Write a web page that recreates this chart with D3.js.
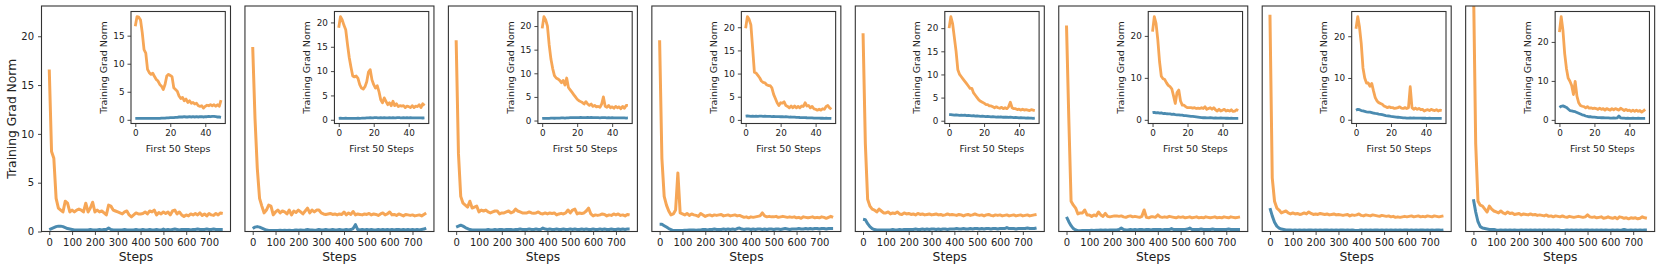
<!DOCTYPE html>
<html>
<head>
<meta charset="utf-8">
<script src="https://cdn.jsdelivr.net/npm/d3@7"></script>
<style>
  body { margin: 0; background: #fff; }
  svg { display: block; font-family: "DejaVu Sans", sans-serif; }
</style>
</head>
<body>
<div id="chart"></div>
<script>
// main plots: one value every 10 steps, insets: one value per step (first 50)
const mainStepSize = 10;
const mainXTicks = [0, 100, 200, 300, 400, 500, 600, 700];
const mainYTicks = [0, 5, 10, 15, 20];
const insetXTicks = [0, 20, 40];
const insetYTicks = [
  [0, 5, 10, 15], [0, 5, 10, 15, 20], [0, 5, 10, 15, 20], [0, 5, 10, 15, 20],
  [0, 5, 10, 15, 20], [0, 10, 20], [0, 10, 20], [0, 10, 20]
];

const mainOrange = [
  [16.6,8.2,7.5,3.4,2.4,2.2,2.0,3.1,2.9,2.0, 2.2,2.0,2.2,2.3,2.2,2.0,2.9,2.0,2.4,3.0, 2.0,2.2,2.0,2.1,1.9,1.7,2.7,2.6,2.2,2.1,
   2.0,1.9,1.8,2.0,2.1,1.7,1.5,1.7,1.9,1.8, 1.8,1.85,2.0,1.8,2.1,2.0,2.2,1.7,1.95,1.8, 2.0,1.85,2.0,1.7,2.1,2.2,1.8,2.0,1.7,1.55,
   1.7,1.6,1.8,1.7,1.85,1.7,1.9,1.65,1.8,1.6, 1.85,1.7,1.65,1.85,1.7,1.9,1.85],
  [18.9,11.6,6.5,3.4,2.6,1.9,2.2,2.7,2.6,1.7, 2.0,2.2,1.9,2.1,2.0,1.8,2.2,1.7,2.1,1.95, 2.2,2.0,1.8,2.1,2.4,1.9,2.2,2.0,2.2,2.2,
   1.9,1.8,1.75,1.8,1.85,1.75,1.8,1.7,1.8,1.75, 2.0,1.7,1.9,1.75,2.05,1.7,1.8,1.75,1.7,1.8, 1.75,1.85,1.7,1.8,1.75,1.65,1.8,1.9,1.7,1.8,
   2.0,1.7,1.75,1.65,1.8,1.7,1.6,1.75,1.7,1.65, 1.7,1.6,1.65,1.7,1.6,1.75,1.9],
  [19.6,8.0,3.6,2.9,2.7,2.5,3.1,2.4,2.5,2.6, 2.0,2.2,2.1,2.2,2.0,1.9,2.0,2.1,2.1,1.8, 1.9,1.9,2.0,2.1,1.9,2.0,2.3,2.1,2.0,1.9,
   1.9,1.9,2.0,1.9,1.86,1.9,2.0,1.85,1.8,1.9, 1.8,1.9,1.85,1.9,1.7,1.8,1.86,1.8,1.9,2.2, 1.9,2.2,2.3,1.8,1.9,1.85,1.9,2.1,2.4,1.8,
   1.6,1.7,1.65,1.7,1.8,1.75,1.6,1.7,1.65,1.8, 1.7,1.8,1.65,1.7,1.6,1.75,1.7],
  [19.6,7.5,3.6,2.7,2.1,1.7,1.8,2.2,6.0,1.9, 1.8,1.7,1.85,1.65,1.8,1.7,1.65,1.55,1.85,1.7, 1.55,1.65,1.7,1.6,1.7,1.65,1.7,1.75,1.6,1.65,
   1.7,1.6,1.65,1.7,1.6,1.65,1.55,1.45,1.5,1.4, 1.5,1.45,1.5,1.55,1.6,1.9,1.6,1.5,1.55,1.5, 1.5,1.55,1.45,1.5,1.55,1.5,1.45,1.5,1.45,1.5,
   1.4,1.45,1.35,1.5,1.45,1.4,1.45,1.5,1.4,1.45, 1.4,1.5,1.45,1.35,1.45,1.55,1.45],
  [20.3,9.0,3.3,2.6,2.3,2.2,2.0,2.3,2.1,1.9, 1.9,2.0,1.8,1.9,1.85,2.0,1.8,1.75,1.9,1.8, 1.85,1.75,1.8,1.7,1.85,1.75,1.8,1.7,1.75,1.8,
   1.7,1.75,1.8,1.7,1.75,1.65,1.7,1.8,1.7,1.75, 1.7,1.65,1.75,1.7,1.6,1.7,1.75,1.65,1.7,1.8, 1.7,1.65,1.7,1.6,1.7,1.75,1.65,1.6,1.7,1.65,
   1.7,1.6,1.65,1.7,1.6,1.65,1.7,1.6,1.65,1.7, 1.6,1.65,1.7,1.6,1.65,1.7,1.75],
  [21.1,11.6,3.1,2.7,2.4,1.8,1.9,1.9,2.2,1.7, 1.7,1.55,1.7,1.6,2.0,1.7,1.55,1.85,1.55,1.5, 1.55,1.6,1.6,1.55,1.6,1.5,1.45,1.55,1.6,1.5,
   1.55,1.5,1.45,1.55,2.2,1.45,1.4,1.5,1.5,1.45, 1.7,1.5,1.45,1.5,1.45,1.55,1.5,1.45,1.4,1.5, 1.45,1.5,1.4,1.45,1.5,1.4,1.45,1.5,1.4,1.45,
   1.4,1.5,1.45,1.4,1.45,1.5,1.4,1.45,1.4,1.5, 1.45,1.4,1.5,1.45,1.4,1.45,1.5],
  [22.2,5.5,3.1,2.4,2.2,1.9,2.0,2.1,1.9,1.8, 1.9,1.8,1.85,1.75,1.8,1.9,1.8,2.0,1.85,1.75, 1.8,1.75,1.85,1.8,1.75,1.8,1.7,1.75,1.8,1.7,
   1.75,1.7,1.65,1.7,1.75,1.6,1.7,1.65,1.7,1.8, 1.65,1.6,1.7,1.65,1.6,1.7,1.65,1.6,1.55,1.65, 1.6,1.55,1.6,1.5,1.55,1.45,1.5,1.45,1.5,1.55,
   1.5,1.55,1.6,1.5,1.55,1.6,1.5,1.55,1.5,1.6, 1.55,1.5,1.6,1.55,1.5,1.55,1.6],
  [26.0,9.0,3.1,2.7,2.6,2.3,2.0,2.6,2.3,2.1, 2.0,1.9,2.1,1.9,1.8,2.0,1.85,1.9,1.75,1.8, 1.85,1.7,1.8,1.75,1.7,1.8,1.7,1.75,1.65,1.7,
   1.65,1.6,1.7,1.55,1.6,1.5,1.6,1.55,1.5,1.6, 1.5,1.45,1.55,1.5,1.45,1.5,1.55,1.5,1.45,1.5, 1.7,1.5,1.45,1.5,1.4,1.45,1.5,1.35,1.4,1.5,
   1.4,1.35,1.45,1.3,1.5,1.45,1.35,1.4,1.3,1.4, 1.35,1.4,1.3,1.35,1.5,1.4,1.35]
];

const mainBlue = [
  [0.2,0.3,0.4,0.5,0.55,0.55,0.5,0.4,0.3,0.25, 0.2,0.15,0.15,0.15,0.15,0.15,0.15,0.15,0.2,0.15, 0.15,0.15,0.2,0.15,0.2,0.2,0.35,0.2,0.15,0.15,
   0.15,0.15,0.15,0.2,0.15,0.15,0.15,0.15,0.2,0.15, 0.15,0.2,0.15,0.15,0.2,0.15,0.15,0.2,0.15,0.15, 0.25,0.15,0.2,0.15,0.2,0.25,0.2,0.15,0.2,0.2,
   0.2,0.2,0.15,0.2,0.2,0.25,0.2,0.2,0.2,0.25, 0.2,0.2,0.25,0.2,0.2,0.2,0.2],
  [0.3,0.45,0.5,0.45,0.35,0.25,0.15,0.1,0.1,0.1, 0.1,0.1,0.12,0.1,0.12,0.1,0.12,0.1,0.12,0.15, 0.12,0.15,0.12,0.15,0.2,0.15,0.15,0.12,0.15,0.2,
   0.15,0.15,0.2,0.15,0.15,0.2,0.15,0.15,0.2,0.15, 0.15,0.2,0.15,0.2,0.3,0.7,0.2,0.15,0.2,0.15, 0.2,0.15,0.2,0.15,0.15,0.2,0.15,0.2,0.15,0.2,
   0.15,0.2,0.15,0.2,0.2,0.15,0.2,0.15,0.2,0.15, 0.2,0.15,0.2,0.15,0.2,0.25,0.35],
  [0.45,0.55,0.65,0.55,0.4,0.3,0.2,0.15,0.15,0.15, 0.15,0.15,0.15,0.15,0.2,0.15,0.15,0.2,0.15,0.2, 0.2,0.15,0.2,0.2,0.2,0.15,0.2,0.2,0.25,0.2,
   0.2,0.2,0.25,0.2,0.2,0.25,0.2,0.2,0.35,0.25, 0.2,0.25,0.2,0.2,0.25,0.2,0.2,0.25,0.2,0.2, 0.25,0.2,0.25,0.2,0.2,0.25,0.2,0.25,0.2,0.2,
   0.25,0.2,0.2,0.25,0.2,0.25,0.2,0.2,0.25,0.2, 0.2,0.25,0.2,0.25,0.2,0.25,0.25],
  [0.75,0.75,0.6,0.45,0.3,0.2,0.1,0.1,0.1,0.1, 0.1,0.12,0.12,0.15,0.15,0.15,0.12,0.15,0.15,0.2, 0.2,0.15,0.2,0.2,0.25,0.2,0.2,0.2,0.25,0.2,
   0.25,0.2,0.25,0.2,0.3,0.35,0.25,0.2,0.25,0.25, 0.2,0.25,0.2,0.25,0.25,0.2,0.25,0.2,0.25,0.25, 0.2,0.25,0.25,0.2,0.25,0.3,0.25,0.2,0.25,0.25,
   0.25,0.3,0.25,0.25,0.3,0.25,0.3,0.25,0.3,0.3, 0.25,0.3,0.3,0.25,0.3,0.3,0.3],
  [1.25,1.2,0.8,0.5,0.3,0.2,0.15,0.15,0.15,0.15, 0.15,0.15,0.15,0.2,0.15,0.15,0.2,0.15,0.2,0.2, 0.2,0.2,0.2,0.25,0.2,0.2,0.25,0.2,0.25,0.2,
   0.25,0.25,0.2,0.25,0.2,0.25,0.25,0.2,0.25,0.25, 0.25,0.3,0.25,0.25,0.3,0.25,0.25,0.3,0.25,0.3, 0.3,0.25,0.3,0.25,0.3,0.3,0.25,0.3,0.3,0.25,
   0.3,0.3,0.3,0.4,0.3,0.3,0.3,0.25,0.3,0.3, 0.3,0.3,0.35,0.3,0.3,0.3,0.35],
  [1.5,1.0,0.6,0.3,0.15,0.08,0.07,0.1,0.1,0.1, 0.1,0.12,0.1,0.12,0.12,0.15,0.12,0.15,0.12,0.15, 0.15,0.15,0.15,0.2,0.35,0.2,0.15,0.15,0.2,0.15,
   0.2,0.15,0.2,0.2,0.15,0.2,0.2,0.15,0.2,0.2, 0.2,0.2,0.15,0.2,0.2,0.2,0.3,0.2,0.2,0.2, 0.2,0.2,0.2,0.25,0.35,0.2,0.2,0.2,0.2,0.25,
   0.2,0.2,0.2,0.2,0.25,0.2,0.2,0.2,0.2,0.2, 0.2,0.25,0.2,0.2,0.2,0.2,0.2],
  [2.4,1.6,0.95,0.55,0.35,0.25,0.2,0.15,0.15,0.15, 0.12,0.15,0.12,0.15,0.12,0.15,0.12,0.15,0.15,0.12, 0.15,0.12,0.15,0.12,0.15,0.15,0.12,0.15,0.12,0.15,
   0.12,0.15,0.15,0.12,0.15,0.12,0.15,0.12,0.1,0.12, 0.15,0.12,0.15,0.12,0.15,0.12,0.15,0.15,0.12,0.15, 0.12,0.15,0.12,0.15,0.12,0.15,0.12,0.15,0.12,0.15,
   0.15,0.12,0.15,0.12,0.15,0.12,0.15,0.15,0.12,0.15, 0.12,0.15,0.12,0.15,0.15,0.12,0.15],
  [3.3,2.0,1.0,0.5,0.35,0.3,0.25,0.2,0.2,0.2, 0.15,0.12,0.15,0.12,0.15,0.12,0.15,0.12,0.15,0.12, 0.12,0.15,0.12,0.15,0.12,0.15,0.12,0.15,0.12,0.15,
   0.12,0.15,0.12,0.15,0.12,0.15,0.12,0.15,0.12,0.1, 0.12,0.15,0.12,0.15,0.12,0.15,0.12,0.15,0.12,0.15, 0.15,0.12,0.15,0.12,0.15,0.12,0.15,0.12,0.15,0.12,
   0.12,0.15,0.12,0.15,0.12,0.15,0.2,0.15,0.12,0.15, 0.12,0.15,0.12,0.15,0.12,0.15,0.15]
];

const insetOrange = [
  [16.7,18.4,18.3,17.8,15.5,12.5,11.9,9.0,8.4,8.1, 8.3,7.7,7.2,6.9,6.3,6.0,5.4,6.3,7.8,8.1, 7.9,7.7,5.7,5.4,5.1,4.25,3.8,4.0,3.4,3.7,
   3.1,3.4,2.95,3.1,2.8,2.95,2.5,2.4,2.5,2.1, 2.4,2.6,2.5,2.7,2.5,2.7,2.4,2.7,2.4,3.5],
  [18.9,21.2,20.5,19.4,18.5,15.5,12.8,10.8,9.0,8.8, 9.0,8.5,7.2,6.5,6.3,6.8,7.8,9.8,10.3,8.2, 7.2,6.5,7.0,5.8,4.1,3.5,4.5,3.8,3.1,3.5,
   2.9,3.8,2.9,3.3,2.7,2.9,2.8,2.9,2.5,2.8, 2.7,2.5,2.9,2.5,2.8,2.7,3.1,2.5,3.3,2.9],
  [19.5,22.0,21.3,20.0,16.0,13.0,11.0,9.5,9.0,8.8, 8.5,8.0,8.5,7.5,9.0,7.0,6.5,6.0,5.5,5.0, 4.5,4.2,4.0,3.8,3.5,4.0,3.5,3.2,3.5,3.0,
   3.2,2.9,3.0,2.8,3.5,5.0,3.0,2.8,3.2,2.7, 2.9,2.6,3.0,2.7,2.9,2.5,3.0,2.6,3.2,3.2],
  [19.8,22.3,21.7,20.5,15.5,10.3,10.1,9.6,9.1,8.4, 8.1,8.0,7.6,7.4,7.4,6.9,5.5,4.6,3.7,3.1, 3.7,3.6,3.9,3.1,2.9,2.6,3.0,2.6,3.0,2.6,
   2.9,2.6,3.0,2.9,3.7,3.0,3.1,2.6,2.9,2.4, 2.3,2.1,2.3,2.1,2.4,2.3,2.9,3.1,2.6,2.3],
  [20.0,22.5,21.0,18.0,15.0,11.0,10.0,9.5,9.0,8.5, 8.0,7.5,7.0,7.0,6.0,5.5,5.0,4.5,4.2,4.0, 3.8,3.5,3.5,3.2,3.2,3.0,2.8,3.0,2.8,2.7,
   2.9,2.6,2.8,2.6,3.0,4.0,2.8,2.6,2.6,2.4, 2.5,2.3,2.5,2.3,2.4,2.3,2.2,2.4,2.3,2.2],
  [21.0,24.6,23.0,19.1,13.9,10.4,9.8,9.6,8.8,8.2, 7.9,7.4,5.7,3.9,6.5,7.1,4.5,3.5,3.5,3.1, 2.9,2.9,2.9,2.8,2.9,2.7,2.8,2.7,2.9,2.7,
   3.1,2.5,2.7,2.9,2.5,2.9,2.4,2.1,2.5,2.1, 2.3,2.5,2.1,2.3,2.1,2.4,2.0,2.1,2.4,2.2],
  [21.8,24.7,22.2,18.3,12.4,10.0,8.8,8.8,8.0,8.7, 6.9,5.3,4.5,4.1,3.9,3.7,3.3,3.1,2.9,3.1, 2.9,2.9,2.7,2.8,2.9,3.1,2.8,2.7,2.9,2.7,
   2.9,7.9,2.9,2.5,2.8,2.5,2.7,2.4,2.5,2.1, 2.3,2.4,2.2,2.5,2.3,2.2,2.4,2.1,2.3,2.2],
  [22.5,26.5,23.0,17.0,13.2,10.7,9.9,8.8,6.5,9.9, 6.1,4.4,3.7,3.5,3.4,3.1,3.4,3.0,3.1,2.9, 3.0,2.9,2.7,3.0,2.7,2.9,2.5,2.9,2.7,2.5,
   2.9,2.6,2.9,2.7,2.5,3.0,2.7,2.4,2.7,2.4, 2.5,2.2,2.5,2.2,2.5,2.2,2.4,2.0,2.3,2.7]
];

const insetBlue = [
  [0.25,0.25,0.25,0.25,0.25,0.25,0.25,0.25,0.25,0.25, 0.25,0.25,0.25,0.25,0.25,0.3,0.3,0.3,0.35,0.35, 0.4,0.4,0.4,0.45,0.45,0.5,0.5,0.5,0.55,0.5,
   0.5,0.55,0.5,0.55,0.5,0.55,0.5,0.55,0.55,0.5, 0.55,0.55,0.6,0.55,0.6,0.6,0.55,0.5,0.5,0.45],
  [0.3,0.32,0.3,0.3,0.32,0.3,0.3,0.28,0.3,0.3, 0.3,0.32,0.3,0.32,0.35,0.35,0.38,0.4,0.42,0.4, 0.42,0.45,0.42,0.4,0.42,0.4,0.42,0.4,0.4,0.42,
   0.4,0.42,0.4,0.42,0.45,0.42,0.4,0.42,0.4,0.42, 0.4,0.42,0.4,0.38,0.4,0.38,0.4,0.38,0.36,0.38],
  [0.45,0.47,0.45,0.45,0.47,0.5,0.5,0.48,0.5,0.5, 0.52,0.55,0.55,0.52,0.55,0.58,0.6,0.62,0.6,0.62, 0.6,0.62,0.65,0.62,0.6,0.62,0.65,0.62,0.65,0.62,
   0.6,0.62,0.6,0.58,0.6,0.62,0.6,0.58,0.6,0.58, 0.6,0.58,0.56,0.58,0.56,0.55,0.57,0.55,0.53,0.55],
  [0.8,0.85,0.8,0.75,0.8,0.75,0.8,0.78,0.82,0.8, 0.78,0.8,0.75,0.78,0.75,0.72,0.75,0.7,0.72,0.7, 0.68,0.7,0.65,0.68,0.65,0.6,0.62,0.58,0.6,0.55,
   0.55,0.52,0.5,0.48,0.5,0.46,0.45,0.42,0.44,0.4, 0.38,0.4,0.36,0.35,0.36,0.34,0.35,0.33,0.34,0.32],
  [1.3,1.3,1.25,1.2,1.25,1.2,1.15,1.2,1.15,1.2, 1.1,1.15,1.1,1.05,1.1,1.0,1.05,1.0,0.95,1.0, 0.95,0.9,0.95,0.9,0.85,0.9,0.85,0.8,0.85,0.8,
   0.8,0.75,0.8,0.75,0.7,0.75,0.7,0.65,0.7,0.65, 0.6,0.65,0.6,0.6,0.55,0.6,0.55,0.55,0.5,0.55],
  [1.7,1.8,1.65,1.7,1.6,1.65,1.5,1.55,1.45,1.4, 1.4,1.3,1.35,1.25,1.2,1.2,1.1,1.1,1.0,1.0, 0.95,0.9,0.85,0.8,0.75,0.7,0.65,0.6,0.55,0.5,
   0.5,0.45,0.45,0.5,0.45,0.4,0.45,0.4,0.4,0.45, 0.4,0.4,0.38,0.4,0.36,0.38,0.35,0.36,0.34,0.35],
  [2.3,2.5,2.4,2.2,2.1,2.0,1.9,1.85,1.8,1.7, 1.6,1.5,1.45,1.35,1.3,1.2,1.1,1.0,0.95,0.9, 0.8,0.75,0.7,0.65,0.6,0.55,0.5,0.45,0.45,0.4,
   0.4,0.45,0.4,0.42,0.4,0.38,0.4,0.38,0.36,0.38, 0.36,0.35,0.36,0.34,0.35,0.33,0.34,0.32,0.33,0.32],
  [3.2,3.5,3.6,3.4,3.2,2.8,2.4,2.3,2.2,2.1, 1.9,1.7,1.5,1.3,1.2,1.0,0.9,0.8,0.8,0.7, 0.7,0.65,0.6,0.6,0.55,0.55,0.5,0.5,0.5,0.45,
   0.45,0.5,0.45,0.5,1.0,0.5,0.45,0.45,0.4,0.45, 0.4,0.4,0.45,0.4,0.4,0.42,0.38,0.4,0.38,0.4]
];

const orangeColor = '#f6a656';
const blueColor = '#4b8bb0';
const axisColor = '#333';
const textColor = '#222';

const width = 1661, height = 270;
const svg = d3.select('#chart').append('svg')
  .attr('width', width)
  .attr('height', height);
const defs = svg.append('defs');

function styleAxis(g, fontSize) {
  g.select('.domain').remove();
  g.selectAll('.tick line').attr('stroke', axisColor).attr('stroke-width', 0.9);
  g.selectAll('.tick text')
    .attr('fill', textColor)
    .style('font-size', fontSize + 'px')
    .style('font-family', '"DejaVu Sans", sans-serif');
}

function drawPanel(i) {
  const left = 41.5 + i * 203.45, top = 6;
  const pw = 189, ph = 225.5;

  const g = svg.append('g').attr('transform', `translate(${left},${top})`);

  // main axes scales
  const x = d3.scaleLinear().domain([-34, 794]).range([0, pw]);
  const y = d3.scaleLinear().domain([0, 23.1]).range([ph, 0]);

  defs.append('clipPath').attr('id', `clip-${i}`)
    .append('rect').attr('width', pw).attr('height', ph);

  const line = d3.line()
    .x((d, j) => x(j * mainStepSize))
    .y(d => y(d));

  const plot = g.append('g').attr('clip-path', `url(#clip-${i})`);
  plot.append('path')
    .datum(mainOrange[i])
    .attr('d', line)
    .attr('fill', 'none')
    .attr('stroke', orangeColor)
    .attr('stroke-width', 3)
    .attr('stroke-linejoin', 'round');
  plot.append('path')
    .datum(mainBlue[i])
    .attr('d', line)
    .attr('fill', 'none')
    .attr('stroke', blueColor)
    .attr('stroke-width', 3)
    .attr('stroke-linejoin', 'round');

  g.append('g')
    .attr('transform', `translate(0,${ph})`)
    .call(d3.axisBottom(x).tickValues(mainXTicks).tickSize(3.5).tickPadding(3.5))
    .call(a => styleAxis(a, 10));

  g.append('text')
    .attr('x', pw / 2)
    .attr('y', ph + 25.3)
    .attr('dy', '0.35em')
    .attr('text-anchor', 'middle')
    .style('font-size', '12.3px')
    .attr('fill', textColor)
    .text('Steps');

  if (i === 0) {
    g.append('g')
      .call(d3.axisLeft(y).tickValues(mainYTicks).tickSize(3.5).tickPadding(4))
      .call(a => styleAxis(a, 10));
    g.append('text')
      .attr('transform', `translate(-29.8,${ph / 2}) rotate(-90)`)
      .attr('dy', '0.35em')
      .attr('text-anchor', 'middle')
      .style('font-size', '12.3px')
      .attr('fill', textColor)
      .text('Training Grad Norm');
  }

  g.append('rect')
    .attr('width', pw).attr('height', ph)
    .attr('fill', 'none')
    .attr('stroke', axisColor)
    .attr('stroke-width', 1.1);

  // inset: first 50 steps
  const iw = 94.3, ih = 112;
  const ig = g.append('g').attr('transform', 'translate(89.5,5.5)');
  const ix = d3.scaleLinear().domain([-2.45, 51.45]).range([0, iw]);
  const [lo, hi] = d3.extent(insetOrange[i].concat(insetBlue[i]));
  const pad = (hi - lo) * 0.05;
  const iy = d3.scaleLinear().domain([lo - pad, hi + pad]).range([ih, 0]);

  ig.append('rect').attr('width', iw).attr('height', ih).attr('fill', '#fff');

  const iline = d3.line()
    .x((d, j) => ix(j))
    .y(d => iy(d));

  ig.append('path')
    .datum(insetOrange[i])
    .attr('d', iline)
    .attr('fill', 'none')
    .attr('stroke', orangeColor)
    .attr('stroke-width', 2.8)
    .attr('stroke-linejoin', 'round');
  ig.append('path')
    .datum(insetBlue[i])
    .attr('d', iline)
    .attr('fill', 'none')
    .attr('stroke', blueColor)
    .attr('stroke-width', 2.8)
    .attr('stroke-linejoin', 'round');

  ig.append('g')
    .attr('transform', `translate(0,${ih})`)
    .call(d3.axisBottom(ix).tickValues(insetXTicks).tickSize(3.5).tickPadding(3))
    .call(a => styleAxis(a, 8.8));
  ig.append('g')
    .call(d3.axisLeft(iy).tickValues(insetYTicks[i]).tickSize(3.5).tickPadding(3))
    .call(a => styleAxis(a, 8.8));

  ig.append('rect')
    .attr('width', iw).attr('height', ih)
    .attr('fill', 'none')
    .attr('stroke', axisColor)
    .attr('stroke-width', 1.1);

  ig.append('text')
    .attr('x', iw / 2)
    .attr('y', ih + 25)
    .attr('dy', '0.35em')
    .attr('text-anchor', 'middle')
    .style('font-size', '9.5px')
    .attr('fill', textColor)
    .text('First 50 Steps');

  ig.append('text')
    .attr('transform', `translate(-27.7,${ih / 2}) rotate(-90)`)
    .attr('dy', '0.35em')
    .attr('text-anchor', 'middle')
    .style('font-size', '9.5px')
    .attr('fill', textColor)
    .text('Training Grad Norm');
}

mainOrange.forEach((_, i) => drawPanel(i));
</script>
</body>
</html>
